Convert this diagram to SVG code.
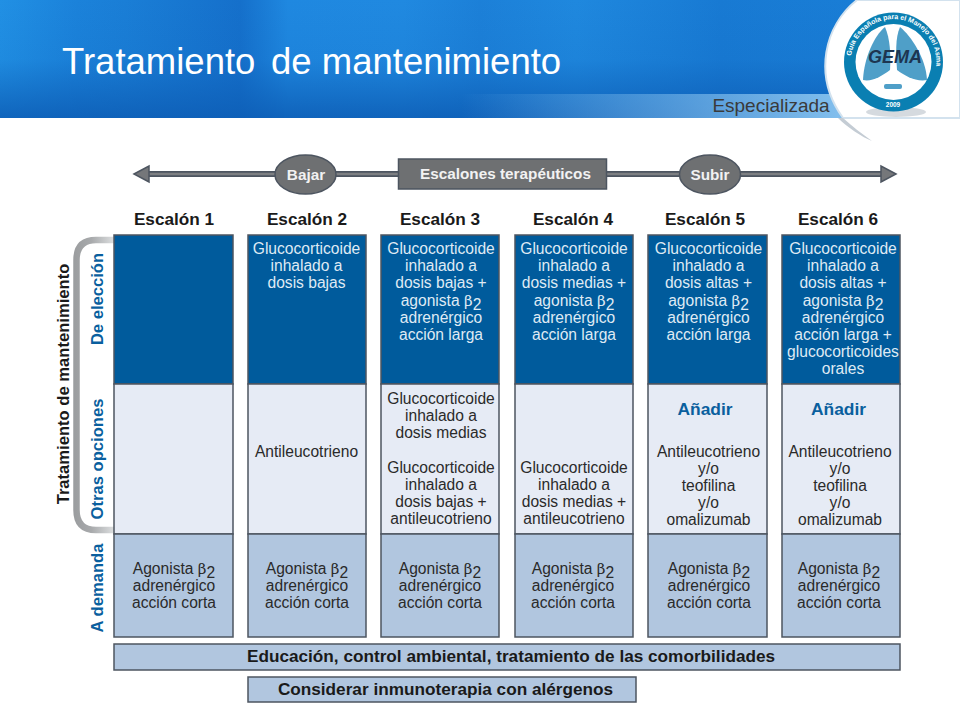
<svg xmlns="http://www.w3.org/2000/svg" width="960" height="720" viewBox="0 0 960 720">
<style>
text{font-family:"Liberation Sans",Arial,sans-serif;text-anchor:middle}
.b{stroke:#4d5560;stroke-width:1.5}
.c1{fill:#005b9c}.c2{fill:#e6ebf5}.c3{fill:#b1c6df}
.w{fill:#dfeaf4;font-size:15.6px}
.k{fill:#2a2a2a;font-size:15.6px}
.h{fill:#1a1a1a;font-size:17.2px;font-weight:bold}
.s{fill:#0a5f9e;font-size:16.6px;font-weight:bold}
.a{fill:#0a5f9e;font-size:17.4px;font-weight:bold}
.t{fill:#1a1a1a;font-size:16.6px;font-weight:bold}
.g{fill:#f2f2f2;font-size:15.3px;font-weight:bold}
.e{fill:#1a1a1a;font-size:17.2px;font-weight:bold}
.beta{font-family:"DejaVu Serif","Liberation Serif",serif;font-size:15px}
.line{fill:none;stroke:#4d5560;stroke-width:6}
.line2{fill:none;stroke:#7d7f82;stroke-width:2.5}
.head{fill:#75777a;stroke:#4d5560;stroke-width:1.5}
.node{fill:#6e7072;stroke:#4d5560;stroke-width:1.5}
.lung{fill:#4f9fc8}
</style>
<defs>
<linearGradient id="hdr" x1="0" y1="0" x2="1" y2="0">
<stop offset="0" stop-color="#2190e4"/><stop offset=".08" stop-color="#1b82da"/><stop offset=".13" stop-color="#1a7ed6"/><stop offset=".25" stop-color="#1570cb"/><stop offset=".3" stop-color="#1f88e0"/><stop offset=".42" stop-color="#2089e0"/><stop offset=".5" stop-color="#1c80d8"/><stop offset=".6" stop-color="#1f88de"/><stop offset=".75" stop-color="#187ad3"/><stop offset="1" stop-color="#1a80d8"/>
</linearGradient>
<linearGradient id="hdrV" x1="0" y1="0" x2="0" y2="1">
<stop offset="0" stop-color="#0d5db5" stop-opacity="0"/><stop offset=".5" stop-color="#0d5db5" stop-opacity=".1"/><stop offset=".8" stop-color="#0d5db5" stop-opacity=".55"/><stop offset="1" stop-color="#0d5db5" stop-opacity=".85"/>
</linearGradient>
<linearGradient id="bar" x1="0" y1="0" x2="1" y2="0">
<stop offset=".48" stop-color="#83bfed" stop-opacity="0"/><stop offset=".88" stop-color="#83bfed"/><stop offset="1" stop-color="#a4d0f2"/>
</linearGradient>
<linearGradient id="brk" gradientUnits="userSpaceOnUse" x1="73" y1="0" x2="114" y2="0">
<stop offset="0" stop-color="#9a9c9e"/><stop offset=".45" stop-color="#a8aaac"/><stop offset="1" stop-color="#dcdedf"/>
</linearGradient>
</defs>

<g id="header">
<rect width="960" height="118" fill="url(#hdr)"/>
<rect width="960" height="118" fill="url(#hdrV)"/>
<rect x="0" y="94" width="960" height="24" fill="url(#bar)"/>
<path d="M857 0C825 25 812 75 843 118H960V0Z" fill="#fff" stroke="#d3e2ee" stroke-width="2"/>
<path d="M843 118C852 126 862 134 872 141C862 137 848 128 838 118Z" fill="#c4ccd4"/>
<text x="62" y="74" font-size="36.500" fill="#fff" style="text-anchor:start">Tratamiento</text>
<text x="271" y="74" font-size="36.500" fill="#fff" style="text-anchor:start">de mantenimiento</text>
<text x="771" y="112" font-size="19" fill="#3a3a3a">Especializada</text>
</g>

<g id="logo">
<ellipse cx="896" cy="112" rx="30" ry="5" fill="#b9c1c9" opacity=".6"/>
<circle cx="893.500" cy="62" r="49.500" fill="#0a7fb2"/>
<circle cx="893.500" cy="62" r="38" fill="#fff"/>
<path d="M885 27C874 36 864 58 863 80C872 82 882 76 890 70C891 55 890 38 885 27Z" class="lung"/>
<path d="M900 27C911 36 926 58 927 80C916 82 905 76 897 70C896 55 895 38 900 27Z" class="lung"/>
<rect x="884" y="84" width="18" height="5" rx="2" class="lung"/>
<text x="895" y="63" font-size="18" font-weight="bold" font-style="italic" fill="#1d3550">GEMA</text>
<path id="ringArc" d="M851 66A42.800 42.800 0 1 1 934 76" fill="none"/>
<text font-size="7" font-weight="bold" fill="#fff"><textPath href="#ringArc" startOffset="50%">Guía Española para el Manejo del Asma</textPath></text>
<text x="893" y="107" font-size="6.500" font-weight="bold" fill="#fff">2009</text>
</g>

<g id="connectors">
<path class="line" d="M148 174H882"/>
<path class="line2" d="M148 174H882"/>
<path class="head" d="M134 174L149 166V182Z"/>
<path class="head" d="M896 174L881 166V182Z"/>
</g>

<g id="bajar"><ellipse class="node" cx="305.500" cy="174.500" rx="30.500" ry="19.500"/><text class="g" x="306" y="180">Bajar</text></g>
<g id="subir"><ellipse class="node" cx="710" cy="174.500" rx="30.500" ry="19.500"/><text class="g" x="710" y="180">Subir</text></g>
<g id="escalones"><rect class="node" x="398.500" y="159" width="208" height="30"/><text class="g" x="505.500" y="179">Escalones terapéuticos</text></g>

<g id="headers">
<text class="h" x="174" y="225">Escalón 1</text>
<text class="h" x="307" y="225">Escalón 2</text>
<text class="h" x="440" y="225">Escalón 3</text>
<text class="h" x="573" y="225">Escalón 4</text>
<text class="h" x="705" y="225">Escalón 5</text>
<text class="h" x="838" y="225">Escalón 6</text>
</g>

<g id="side-labels">
<path d="M114 240H96Q76.500 240 76.500 260V510Q76.500 530 96 530H114" fill="none" stroke="url(#brk)" stroke-width="6.500"/>
<text class="t" transform="translate(69 384) rotate(-90)">Tratamiento de mantenimiento</text>
<text class="s" transform="translate(103 299) rotate(-90)">De elección</text>
<text class="s" transform="translate(103 459) rotate(-90)">Otras opciones</text>
<text class="s" transform="translate(103 588) rotate(-90)">A demanda</text>
</g>

<g id="col1">
<rect class="c1 b" x="114" y="235" width="119" height="149"/><rect class="c2 b" x="114" y="384" width="119" height="150"/><rect class="c3 b" x="114" y="534" width="119" height="103"/>
<text class="k" x="174" y="574">Agonista <tspan class="beta">β</tspan><tspan dy="4">2</tspan></text><text class="k" x="174" y="591">adrenérgico</text><text class="k" x="174" y="608">acción corta</text>
</g>
<g id="col2">
<rect class="c1 b" x="248" y="235" width="118" height="149"/><rect class="c2 b" x="248" y="384" width="118" height="150"/><rect class="c3 b" x="248" y="534" width="118" height="103"/>
<text class="w" x="306.500" y="254">Glucocorticoide</text><text class="w" x="306.500" y="271">inhalado a</text><text class="w" x="306.500" y="288">dosis bajas</text>
<text class="k" x="306.500" y="457">Antileucotrieno</text>
<text class="k" x="307" y="574">Agonista <tspan class="beta">β</tspan><tspan dy="4">2</tspan></text><text class="k" x="307" y="591">adrenérgico</text><text class="k" x="307" y="608">acción corta</text>
</g>
<g id="col3">
<rect class="c1 b" x="381" y="235" width="118" height="149"/><rect class="c2 b" x="381" y="384" width="118" height="150"/><rect class="c3 b" x="381" y="534" width="118" height="103"/>
<text class="w" x="441" y="254">Glucocorticoide</text><text class="w" x="441" y="271">inhalado a</text><text class="w" x="441" y="288">dosis bajas +</text><text class="w" x="441" y="306">agonista <tspan class="beta">β</tspan><tspan dy="4">2</tspan></text><text class="w" x="441" y="323">adrenérgico</text><text class="w" x="441" y="340">acción larga</text>
<text class="k" x="441" y="404">Glucocorticoide</text><text class="k" x="441" y="421">inhalado a</text><text class="k" x="441" y="438">dosis medias</text>
<text class="k" x="441" y="473">Glucocorticoide</text><text class="k" x="441" y="490">inhalado a</text><text class="k" x="441" y="507">dosis bajas +</text><text class="k" x="441" y="524">antileucotrieno</text>
<text class="k" x="440" y="574">Agonista <tspan class="beta">β</tspan><tspan dy="4">2</tspan></text><text class="k" x="440" y="591">adrenérgico</text><text class="k" x="440" y="608">acción corta</text>
</g>
<g id="col4">
<rect class="c1 b" x="515" y="235" width="118" height="149"/><rect class="c2 b" x="515" y="384" width="118" height="150"/><rect class="c3 b" x="515" y="534" width="118" height="103"/>
<text class="w" x="574" y="254">Glucocorticoide</text><text class="w" x="574" y="271">inhalado a</text><text class="w" x="574" y="288">dosis medias +</text><text class="w" x="574" y="306">agonista <tspan class="beta">β</tspan><tspan dy="4">2</tspan></text><text class="w" x="574" y="323">adrenérgico</text><text class="w" x="574" y="340">acción larga</text>
<text class="k" x="574" y="473">Glucocorticoide</text><text class="k" x="574" y="490">inhalado a</text><text class="k" x="574" y="507">dosis medias +</text><text class="k" x="574" y="524">antileucotrieno</text>
<text class="k" x="573" y="574">Agonista <tspan class="beta">β</tspan><tspan dy="4">2</tspan></text><text class="k" x="573" y="591">adrenérgico</text><text class="k" x="573" y="608">acción corta</text>
</g>
<g id="col5">
<rect class="c1 b" x="648" y="235" width="119" height="149"/><rect class="c2 b" x="648" y="384" width="119" height="150"/><rect class="c3 b" x="648" y="534" width="119" height="103"/>
<text class="w" x="708.500" y="254">Glucocorticoide</text><text class="w" x="708.500" y="271">inhalado a</text><text class="w" x="708.500" y="288">dosis altas +</text><text class="w" x="708.500" y="306">agonista <tspan class="beta">β</tspan><tspan dy="4">2</tspan></text><text class="w" x="708.500" y="323">adrenérgico</text><text class="w" x="708.500" y="340">acción larga</text>
<text class="a" x="705" y="415">Añadir</text>
<text class="k" x="708.500" y="457">Antileucotrieno</text><text class="k" x="708.500" y="474">y/o</text><text class="k" x="708.500" y="491">teofilina</text><text class="k" x="708.500" y="508">y/o</text><text class="k" x="708.500" y="525">omalizumab</text>
<text class="k" x="709" y="574">Agonista <tspan class="beta">β</tspan><tspan dy="4">2</tspan></text><text class="k" x="709" y="591">adrenérgico</text><text class="k" x="709" y="608">acción corta</text>
</g>
<g id="col6">
<rect class="c1 b" x="782" y="235" width="118" height="149"/><rect class="c2 b" x="782" y="384" width="118" height="150"/><rect class="c3 b" x="782" y="534" width="118" height="103"/>
<text class="w" x="843" y="254">Glucocorticoide</text><text class="w" x="843" y="271">inhalado a</text><text class="w" x="843" y="288">dosis altas +</text><text class="w" x="843" y="306">agonista <tspan class="beta">β</tspan><tspan dy="4">2</tspan></text><text class="w" x="843" y="323">adrenérgico</text><text class="w" x="843" y="340">acción larga +</text><text class="w" x="843" y="357">glucocorticoides</text><text class="w" x="843" y="374">orales</text>
<text class="a" x="838.500" y="415">Añadir</text>
<text class="k" x="840" y="457">Antileucotrieno</text><text class="k" x="840" y="474">y/o</text><text class="k" x="840" y="491">teofilina</text><text class="k" x="840" y="508">y/o</text><text class="k" x="840" y="525">omalizumab</text>
<text class="k" x="839" y="574">Agonista <tspan class="beta">β</tspan><tspan dy="4">2</tspan></text><text class="k" x="839" y="591">adrenérgico</text><text class="k" x="839" y="608">acción corta</text>
</g>

<g id="educacion"><rect class="c3 b" x="114" y="644" width="786" height="26"/><text class="e" x="511" y="662">Educación, control ambiental, tratamiento de las comorbilidades</text></g>
<g id="inmunoterapia"><rect class="c3 b" x="248" y="677" width="388" height="25"/><text class="e" x="445.500" y="695">Considerar inmunoterapia con alérgenos</text></g>
</svg>
